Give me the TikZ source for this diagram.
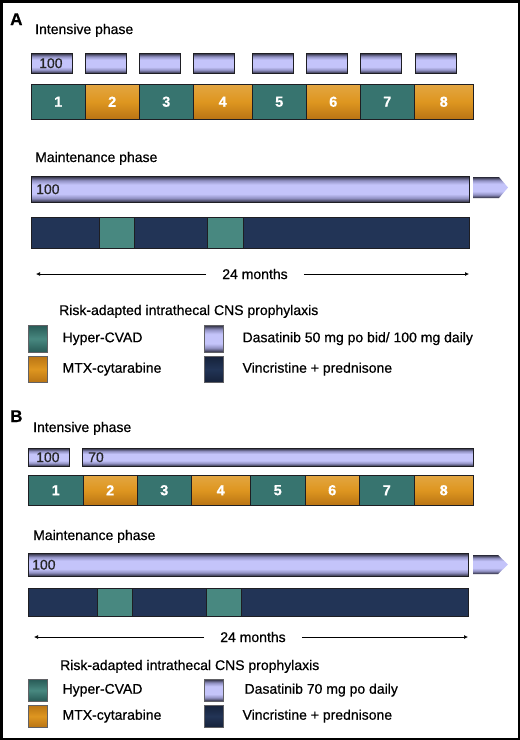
\documentclass[tikz,border=0pt]{standalone}
\usepackage{fontspec}
\setmainfont{Liberation Sans}[FakeBold=0.6]
\usetikzlibrary{positioning,arrows.meta}
\definecolor{lavlight}{RGB}{196,196,250}
\definecolor{lavmid}{RGB}{145,145,195}
\definecolor{lavdark}{RGB}{42,42,58}
\definecolor{tealc}{RGB}{55,116,111}
\definecolor{teallight}{RGB}{72,136,128}
\definecolor{tealdark}{RGB}{40,90,86}
\definecolor{orangec}{RGB}{222,150,32}
\definecolor{orangedark}{RGB}{185,116,20}
\definecolor{navyc}{RGB}{34,52,86}
\definecolor{navydark}{RGB}{22,34,58}
\definecolor{edgec}{RGB}{30,30,35}
\pgfdeclareverticalshading{lavcyl}{100bp}{color(0bp)=(lavdark); color(25bp)=(lavdark); color(33bp)=(lavmid); color(41bp)=(lavlight); color(59bp)=(lavlight); color(67bp)=(lavmid); color(75bp)=(lavdark); color(100bp)=(lavdark)}
\tikzset{
  panellabel/.style={font=\fontsize{17}{20}\selectfont\bfseries, anchor=base west, inner sep=0pt},
  phasetitle/.style={anchor=base west, inner sep=0pt},
  dasabar/.style={draw=edgec, line width=0.5pt, shade, shading=lavcyl, inner sep=0pt, anchor=north west},
  dosetext/.style={inner sep=0pt, text=black!85},
  hcvad/.style={draw=edgec, line width=0.5pt, fill=tealc, text=white, font=\fontsize{14.5}{17}\selectfont\bfseries, inner sep=0pt, anchor=north west},
  mtx/.style={hcvad, top color=orangec!85!white, bottom color=orangedark, middle color=orangec},
  vpbar/.style={draw=edgec, line width=0.5pt, fill=navyc, inner sep=0pt, anchor=north west},
  vpgap/.style={draw=edgec, line width=0.5pt, fill=teallight, inner sep=0pt, anchor=north west},
  swatch/.style={minimum width=19pt, inner sep=0pt, anchor=north west, draw=edgec!70, line width=0.4pt},
  tealswatch/.style={swatch, top color=tealdark, bottom color=tealdark, middle color=teallight},
  orangeswatch/.style={swatch, top color=orangedark, bottom color=orangedark, middle color=orangec},
  lavswatch/.style={swatch, shade, shading=lavcyl},
  navyswatch/.style={swatch, top color=navydark, bottom color=navydark, middle color=navyc},
  legtext/.style={inner sep=0pt, text height=10pt, text depth=3pt},
  spanline/.style={-{Latex[length=4pt, width=4pt]}, line width=0.7pt},
  spantext/.style={inner xsep=16pt, inner ysep=0pt}
}
\begin{document}
\begin{tikzpicture}[x=1pt, y=-1pt, >=Latex, every node/.style={font=\fontsize{14}{17}\selectfont}]
  \useasboundingbox (0,0) rectangle (520,740);
  \draw[line width=2.5pt] (1.25,1.25) rectangle (518.75,738.75);

  \node[panellabel] (labA) at (10,25) {A};
  \node[phasetitle] (intA) at (35,34) {Intensive phase};
  \foreach \x [count=\i] in {31,85,139,193,252,306,360,415}
    \node[dasabar, minimum width=41pt, minimum height=20pt] (dA\i) at (\x,53) {};
  \node[dosetext, right=8pt of dA1.west] (dA1t) {100};
  \foreach \c/\xa/\xb/\kind in {1/31/85/hcvad, 2/85/139/mtx, 3/139/193/hcvad, 4/193/252/mtx, 5/252/306/hcvad, 6/306/360/mtx, 7/360/414/hcvad, 8/414/473/mtx}
    \node[\kind, minimum width={(\xb-\xa)*1pt}, minimum height=35pt] (cA\c) at (\xa,84) {\c};

  \node[phasetitle] (mainA) at (35,162) {Maintenance phase};
  \node[dasabar, minimum width=438pt, minimum height=26pt] (mbA) at (31,176) {};
  \node[dosetext, right=5pt of mbA.west] (mbAt) {100};
  \shade[shading=lavcyl] (473,177) -- (499,177) -- (508,187.5) -- (499,198) -- (473,198) -- cycle;
  \node[vpbar, minimum width=438pt, minimum height=31pt] (vpA) at (31,217) {};
  \node[vpgap, minimum width=35pt, minimum height=31pt] (gA1) at (99,217) {};
  \node[vpgap, minimum width=36pt, minimum height=31pt] (gA2) at (207,217) {};
  \node[spantext] (monA) at (255,274) {24 months};
  \coordinate (monAl) at (36,274);
  \coordinate (monAr) at (469,274);
  \draw[spanline] (monA) -- (monAl);
  \draw[spanline] (monA) -- (monAr);

  \node[phasetitle] (riskA) at (59,315) {Risk-adapted intrathecal CNS prophylaxis};
  \node[tealswatch, minimum height=27pt] (sA1) at (28,325) {};
  \node[orangeswatch, minimum height=26pt] (sA2) at (28,356) {};
  \node[lavswatch, minimum height=27pt] (sA3) at (204,325) {};
  \node[navyswatch, minimum height=26pt] (sA4) at (204,356) {};
  \node[legtext, right=15pt of sA1] (tA1) {Hyper-CVAD};
  \node[legtext, right=15pt of sA2] (tA2) {MTX-cytarabine};
  \node[legtext, right=19pt of sA3] (tA3) {Dasatinib 50 mg po bid/ 100 mg daily};
  \node[legtext, right=19pt of sA4] (tA4) {Vincristine + prednisone};

  \node[panellabel] (labB) at (10,422) {B};
  \node[phasetitle] (intB) at (33,432) {Intensive phase};
  \node[dasabar, minimum width=41pt, minimum height=18pt] (dB1) at (28,448) {};
  \node[dasabar, minimum width=391pt, minimum height=18pt] (dB2) at (82,448) {};
  \node[dosetext, right=8pt of dB1.west] (dB1t) {100};
  \node[dosetext, right=6pt of dB2.west] (dB2t) {70};
  \foreach \c/\xa/\xb/\kind in {1/28/83/hcvad, 2/83/137/mtx, 3/137/191/hcvad, 4/191/250/mtx, 5/250/305/hcvad, 6/305/359/mtx, 7/359/414/hcvad, 8/414/473/mtx}
    \node[\kind, minimum width={(\xb-\xa)*1pt}, minimum height=30pt] (cB\c) at (\xa,475) {\c};

  \node[phasetitle] (mainB) at (33,540) {Maintenance phase};
  \node[dasabar, minimum width=440pt, minimum height=23pt] (mbB) at (28,553) {};
  \node[dosetext, right=4pt of mbB.west] (mbBt) {100};
  \shade[shading=lavcyl] (473,555) -- (498,555) -- (508,564.5) -- (498,574) -- (473,574) -- cycle;
  \node[vpbar, minimum width=440pt, minimum height=28pt] (vpB) at (28,588) {};
  \node[vpgap, minimum width=35pt, minimum height=28pt] (gB1) at (97,588) {};
  \node[vpgap, minimum width=35pt, minimum height=28pt] (gB2) at (206,588) {};
  \node[spantext] (monB) at (253,637) {24 months};
  \coordinate (monBl) at (34,637);
  \coordinate (monBr) at (468,637);
  \draw[spanline] (monB) -- (monBl);
  \draw[spanline] (monB) -- (monBr);

  \node[phasetitle] (riskB) at (60,670) {Risk-adapted intrathecal CNS prophylaxis};
  \node[tealswatch, minimum height=22pt] (sB1) at (28,679) {};
  \node[orangeswatch, minimum height=22pt] (sB2) at (28,705) {};
  \node[lavswatch, minimum height=22pt] (sB3) at (204,679) {};
  \node[navyswatch, minimum height=22pt] (sB4) at (204,705) {};
  \node[legtext, right=15pt of sB1] (tB1) {Hyper-CVAD};
  \node[legtext, right=15pt of sB2] (tB2) {MTX-cytarabine};
  \node[legtext, right=21pt of sB3] (tB3) {Dasatinib 70 mg po daily};
  \node[legtext, right=19pt of sB4] (tB4) {Vincristine + prednisone};
\end{tikzpicture}
\end{document}
